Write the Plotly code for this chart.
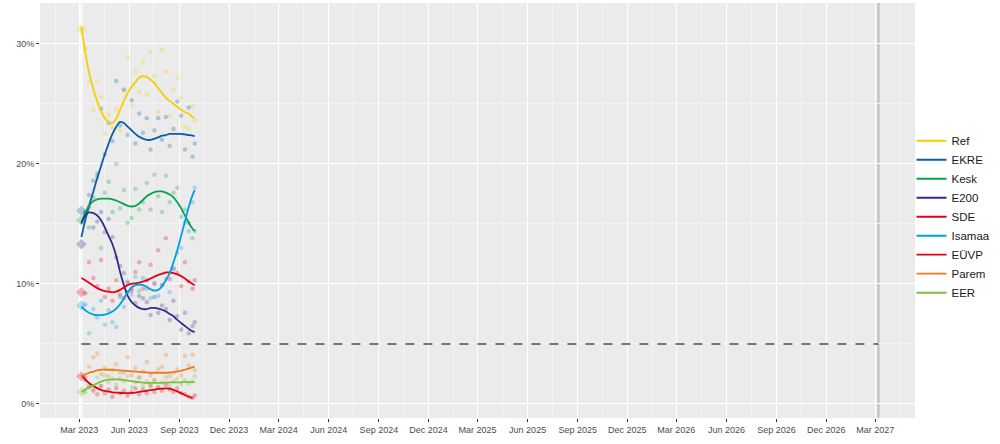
import plotly.graph_objects as go

# ---------------- data ----------------
parties = ["Ref", "EKRE", "Kesk", "E200", "SDE", "Isamaa", "EÜVP", "Parem", "EER"]
colors = ["#F5CF00", "#0B5CA6", "#00A550", "#2E2E8A", "#E2001A", "#009FE3", "#E3000F", "#F07A1A", "#7DBE3C"]

election_date = "2023-03-05"
next_election = "2027-03-07"
election_result = {"Ref": 31.2, "EKRE": 16.1, "Kesk": 15.3, "E200": 13.3, "SDE": 9.3,
                   "Isamaa": 8.2, "EÜVP": 2.3, "EER": 1.0}
threshold = 5

poll_dates = ["2023-03-12", "2023-03-19", "2023-03-27", "2023-04-03", "2023-04-10", "2023-04-17",
              "2023-04-24", "2023-05-01", "2023-05-08", "2023-05-15", "2023-05-22", "2023-05-29",
              "2023-06-05", "2023-06-12", "2023-06-19", "2023-06-26", "2023-07-03", "2023-07-10",
              "2023-07-17", "2023-07-24", "2023-07-31", "2023-08-07", "2023-08-14", "2023-08-21",
              "2023-08-28", "2023-09-04", "2023-09-11", "2023-09-18", "2023-09-25", "2023-09-29"]

polls_ref = [29.6, 26.8, 24.5, 26.9, 25.6, 22.5, 24.1, 23.0, 24.6, 22.8, 26.1, 28.9, 24.9, 27.7, 26.0,
             28.5, 25.8, 29.3, 27.3, 24.3, 29.5, 27.7, 24.0, 26.2, 27.2, 25.5, 23.1, 22.9, 24.8, 23.6]
polls_ekre = [15.8, 17.4, 18.6, 19.2, 24.6, 20.8, 23.4, 21.9, 26.9, 23.2, 26.2, 22.4, 25.3, 21.7, 24.2,
              22.6, 23.8, 21.2, 22.8, 23.8, 22.0, 23.9, 21.5, 22.9, 25.2, 24.0, 21.2, 24.7, 20.6, 21.7]
polls_kesk = [16.0, 14.7, 17.2, 18.9, 13.0, 17.6, 18.5, 16.0, 20.0, 16.3, 17.8, 15.1, 15.5, 17.9, 16.2,
              16.8, 18.4, 16.2, 19.1, 17.3, 16.0, 19.0, 16.8, 17.6, 18.0, 15.6, 16.2, 15.1, 13.8, 14.4]
polls_e200 = [15.9, 16.4, 14.7, 15.2, 16.0, 14.3, 15.4, 13.9, 12.2, 11.5, 10.9, 9.3, 9.6, 8.4, 9.0,
              8.8, 8.5, 7.4, 8.9, 7.6, 8.2, 7.9, 7.0, 8.6, 7.3, 6.2, 7.6, 5.9, 6.5, 6.8]
polls_sde = [9.2, 11.8, 10.5, 9.8, 12.0, 8.9, 9.6, 8.6, 10.3, 9.1, 8.8, 10.1, 9.4, 11.0, 11.8,
             9.6, 10.3, 11.6, 10.0, 12.8, 9.9, 13.8, 10.4, 11.3, 10.9, 9.8, 11.8, 10.2, 9.6, 10.3]
polls_isamaa = [8.3, 5.9, 7.9, 7.2, 8.6, 6.6, 7.8, 6.8, 6.4, 8.9, 8.1, 10.2, 9.1, 10.6, 9.4,
                10.5, 9.6, 8.8, 10.1, 9.0, 9.9, 10.4, 9.3, 11.2, 12.6, 13.0, 15.1, 14.4, 16.8, 18.0]
polls_euvp = [2.0, 1.4, 1.1, 0.8, 1.5, 0.9, 1.2, 0.6, 1.3, 0.9, 1.1, 0.7, 1.0, 1.3, 0.8,
              1.2, 0.9, 1.5, 1.0, 1.4, 1.1, 1.6, 1.2, 1.0, 1.3, 0.9, 0.8, 0.6, 0.5, 0.7]
polls_parem = [2.2, 3.1, 3.9, 4.2, 2.5, 3.0, 2.3, 2.8, 3.3, 2.1, 2.6, 3.9, 2.4, 3.0, 2.2,
               2.7, 3.5, 2.4, 2.0, 2.9, 3.1, 4.1, 2.3, 2.6, 2.9, 2.4, 4.0, 3.2, 4.1, 2.8]
polls_eer = [1.0, 1.6, 1.3, 2.2, 1.5, 2.4, 1.8, 2.1, 1.6, 2.6, 1.9, 2.3, 1.4, 1.8, 2.2,
             1.5, 1.9, 1.6, 2.0, 1.4, 1.8, 2.2, 1.5, 1.9, 2.1, 1.6, 2.0, 1.7, 1.9, 2.3]

trend_dates = ["2023-03-05"] + poll_dates

trend_ref = [31.4, 29.3, 27.6, 26.2, 25.2, 24.4, 23.8, 23.4, 23.4, 23.8, 24.5, 25.25, 25.9, 26.4, 26.8,
             27.2, 27.3, 27.25, 27.0, 26.75, 26.3, 25.9, 25.5, 25.25, 25.0, 24.75, 24.5, 24.3, 24.2, 23.9, 23.8]
trend_ekre = [13.9, 15.3, 16.5, 17.7, 18.8, 19.8, 20.8, 21.7, 22.5, 23.1, 23.5, 23.4, 23.1, 22.8, 22.5,
              22.25, 22.1, 22.0, 22.0, 22.1, 22.2, 22.35, 22.4, 22.5, 22.5, 22.5, 22.5, 22.45, 22.4, 22.35, 22.3]
trend_kesk = [15.0, 15.9, 16.5, 16.9, 17.05, 17.1, 17.1, 17.1, 17.05, 16.95, 16.8, 16.65, 16.5, 16.45, 16.5,
              16.7, 17.0, 17.3, 17.5, 17.65, 17.7, 17.7, 17.6, 17.45, 17.2, 16.8, 16.3, 15.7, 15.1, 14.6, 14.4]
trend_e200 = [15.1, 15.7, 15.95, 15.9, 15.7, 15.3, 14.7, 14.0, 13.3, 12.3, 11.0, 9.9, 9.0, 8.5, 8.2,
              8.0, 7.9, 7.9, 8.0, 8.0, 7.95, 7.85, 7.7, 7.5, 7.3, 7.0, 6.75, 6.5, 6.25, 6.05, 6.0]
trend_sde = [10.5, 10.3, 10.1, 9.85, 9.65, 9.5, 9.4, 9.35, 9.3, 9.35, 9.5, 9.7, 9.9, 10.0, 10.05,
             10.1, 10.2, 10.3, 10.45, 10.6, 10.75, 10.85, 10.95, 10.95, 10.9, 10.8, 10.65, 10.45, 10.2, 10.0, 9.9]
trend_isamaa = [8.1, 7.8, 7.6, 7.45, 7.4, 7.4, 7.45, 7.55, 7.7, 7.95, 8.3, 8.8, 9.3, 9.7, 9.9,
                9.95, 9.9, 9.75, 9.55, 9.45, 9.5, 9.8, 10.3, 10.9, 11.8, 12.8, 14.0, 15.2, 16.4, 17.4, 17.8]
trend_euvp = [2.4, 2.05, 1.75, 1.5, 1.32, 1.18, 1.08, 1.02, 0.97, 0.94, 0.92, 0.9, 0.9, 0.92, 0.95,
              1.0, 1.05, 1.1, 1.15, 1.2, 1.25, 1.28, 1.3, 1.27, 1.18, 1.05, 0.9, 0.75, 0.6, 0.5, None]
trend_parem = [2.3, 2.45, 2.6, 2.7, 2.8, 2.85, 2.85, 2.85, 2.85, 2.82, 2.8, 2.78, 2.75, 2.72, 2.7,
               2.68, 2.65, 2.63, 2.6, 2.6, 2.6, 2.6, 2.6, 2.62, 2.65, 2.7, 2.76, 2.85, 2.95, 3.05, 3.1]
trend_eer = [1.0, 1.2, 1.38, 1.55, 1.72, 1.86, 1.96, 2.02, 2.05, 2.05, 2.03, 2.0, 1.95, 1.9, 1.85,
             1.81, 1.78, 1.76, 1.75, 1.75, 1.75, 1.76, 1.78, 1.79, 1.8, 1.8, 1.81, 1.82, 1.82, 1.82, 1.82]

polls = [polls_ref, polls_ekre, polls_kesk, polls_e200, polls_sde, polls_isamaa, polls_euvp, polls_parem, polls_eer]
trends = [trend_ref, trend_ekre, trend_kesk, trend_e200, trend_sde, trend_isamaa, trend_euvp, trend_parem, trend_eer]

y_ticks = [0, 10, 20, 30]
y_ticktext = ["0%", "10%", "20%", "30%"]

# ---------------- figure ----------------
fig = go.Figure()

fig.add_shape(type="line", xref="x", yref="paper", x0=election_date, x1=election_date, y0=0, y1=1,
              line=dict(color="rgba(255,255,255,0.9)", width=2), layer="below")
fig.add_shape(type="line", xref="x", yref="paper", x0=next_election, x1=next_election, y0=0, y1=1,
              line=dict(color="rgba(160,160,160,0.6)", width=2), layer="below")

for p, c, vals in zip(parties, colors, polls):
    fig.add_trace(go.Scatter(x=poll_dates, y=vals, mode="markers", showlegend=False, hoverinfo="skip",
                             marker=dict(color=c, size=4.5, opacity=0.28, line=dict(width=0))))

for p, c in zip(parties, colors):
    if p in election_result:
        fig.add_trace(go.Scatter(x=[election_date], y=[election_result[p]], mode="markers",
                                 showlegend=False, hoverinfo="skip",
                                 marker=dict(color=c, symbol="diamond", size=8, opacity=0.3,
                                             line=dict(width=0))))

fig.add_trace(go.Scatter(x=[election_date, next_election], y=[threshold, threshold], mode="lines",
                         showlegend=False, hoverinfo="skip",
                         line=dict(color="#4D4D4D", width=1.5, dash="dash")))

for p, c, vals in zip(parties, colors, trends):
    fig.add_trace(go.Scatter(x=trend_dates, y=vals, mode="lines", name=p,
                             line=dict(color=c, width=1.8, shape="spline", smoothing=0.8)))

fig.update_layout(
    width=1000, height=444,
    margin=dict(l=40, r=85, t=3, b=26),
    paper_bgcolor="white", plot_bgcolor="#EBEBEB",
    font=dict(family="Liberation Sans, Arial, sans-serif", color="#4D4D4D", size=9),
    legend=dict(x=0.996, y=0.485, xanchor="left", yanchor="middle", bgcolor="rgba(0,0,0,0)",
                font=dict(size=11.5, color="#1a1a1a"), itemwidth=30, tracegroupgap=0,
                borderwidth=0),
    showlegend=True,
)
fig.update_xaxes(
    type="date", range=["2022-12-19", "2027-05-13"],
    tick0="2023-03-01", dtick="M3", tickformat="%b %Y",
    showgrid=True, gridcolor="white", gridwidth=1.2,
    minor=dict(tick0="2023-04-16", dtick="M3", showgrid=True, gridcolor="#F3F3F3", gridwidth=0.6),
    ticks="outside", ticklen=3, tickcolor="#333333", zeroline=False, showline=False,
    tickfont=dict(size=9, color="#4D4D4D"),
)
fig.update_yaxes(
    range=[-1.17, 33.4], tickvals=y_ticks, ticktext=y_ticktext,
    showgrid=True, gridcolor="white", gridwidth=1.2,
    minor=dict(tickvals=[5, 15, 25], showgrid=True, gridcolor="#F3F3F3", gridwidth=0.6),
    ticks="outside", ticklen=3, tickcolor="#333333", zeroline=False, showline=False,
    tickfont=dict(size=9, color="#4D4D4D"),
)

fig.write_html("out.html", config={"displayModeBar": False},
               post_script="document.body.style.margin='0px';")
